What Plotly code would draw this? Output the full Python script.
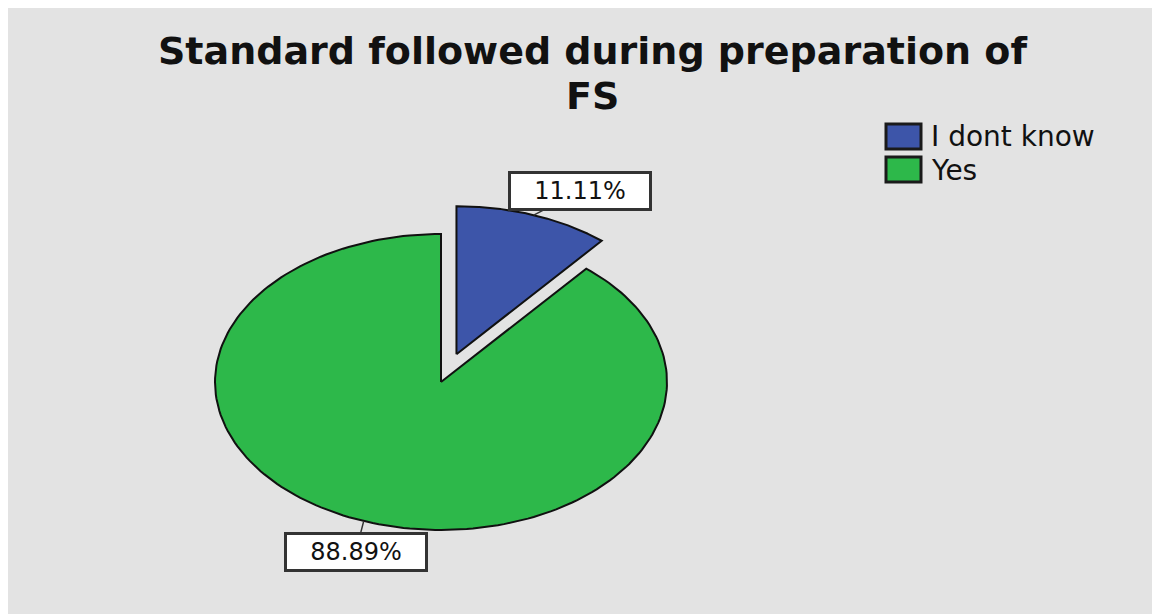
import numpy as np
import plotly.graph_objs as go

# data
categories = ["I dont know", "Yes"]
percents = [11.11, 88.89]
colors = ["#3d55a9", "#2db84a"]
pulls = [0.2, 0.0]
title_lines = ["Standard followed during preparation of", "FS"]

# page is offset by the 8px body margin
OFF = 8
W, H = 1160 - OFF, 614 - OFF
cx_px, cy_px = 441, 382      # pie centre on the page
rx_px, ry_px = 226, 148      # stretched radii

x_range = [-(cx_px - OFF) / rx_px, (OFF + W - cx_px) / rx_px]
y_range = [-(OFF + H - cy_px) / ry_px, (cy_px - OFF) / ry_px]

def px(x):
    return (x - OFF) / W

def py(y):
    return 1 - (y - OFF) / H

fig = go.Figure()

start = 0.0
label_pos = []
for cat, p, col, pull in zip(categories, percents, colors, pulls):
    a0 = start
    a1 = start + p / 100 * 360
    mid = np.radians((a0 + a1) / 2)
    ox, oy = pull * np.sin(mid), pull * np.cos(mid)
    t = np.radians(np.linspace(a0, a1, 200))
    xs = np.concatenate([[ox], ox + np.sin(t), [ox]])
    ys = np.concatenate([[oy], oy + np.cos(t), [oy]])
    fig.add_trace(go.Scatter(x=xs, y=ys, fill="toself", fillcolor=col, mode="lines",
                             line=dict(color="#111111", width=2), name=cat,
                             showlegend=False, hoverinfo="name"))
    label_pos.append((ox + np.sin(mid), oy + np.cos(mid)))
    start = a1

# percentage labels
offsets = [(46, -24), (-8, 31)]
for (lx, ly), p, (ax, ay) in zip(label_pos, percents, offsets):
    fig.add_annotation(x=lx, y=ly, text=f"{p:.2f}%", showarrow=True, arrowhead=0,
                       arrowwidth=1.5, arrowcolor="#333333", ax=ax, ay=ay,
                       width=134, height=30, align="center",
                       font=dict(family="DejaVu Sans", size=24, color="#111111"),
                       bgcolor="white", bordercolor="#333333", borderwidth=3, borderpad=2)

# legend
for i, (cat, col) in enumerate(zip(categories, colors)):
    y0 = 124 + i * 33
    fig.add_shape(type="rect", xref="paper", yref="paper",
                  x0=px(886), x1=px(921), y0=py(y0), y1=py(y0 + 25),
                  fillcolor=col, line=dict(color="#1a1a1a", width=3))
    fig.add_annotation(xref="paper", yref="paper", x=px(929), y=py(y0 + 13),
                       xanchor="left", yanchor="middle", showarrow=False, text=cat,
                       font=dict(family="DejaVu Sans", size=28, color="#111111"))

# title
for i, line in enumerate(title_lines):
    fig.add_annotation(xref="paper", yref="paper", x=px(592), y=py(51 + i * 45),
                       xanchor="center", yanchor="middle", showarrow=False, text=line,
                       font=dict(family="DejaVu Sans", size=38, color="#111111", weight="bold"))

fig.update_layout(
    width=W, height=H,
    margin=dict(l=0, r=0, t=0, b=0),
    paper_bgcolor="#e3e3e3", plot_bgcolor="#e3e3e3",
    xaxis=dict(range=x_range, visible=False, fixedrange=True),
    yaxis=dict(range=y_range, visible=False, fixedrange=True),
    showlegend=False,
)

fig.write_html("out.html")
